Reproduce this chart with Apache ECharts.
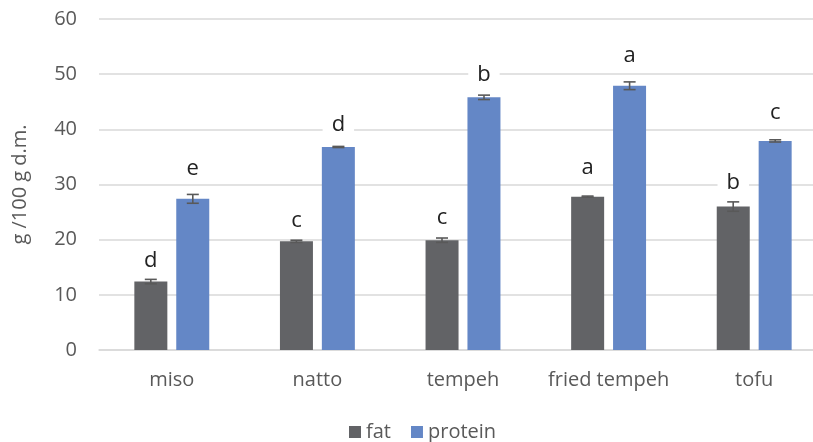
<!DOCTYPE html>
<html>
<head>
<meta charset="utf-8">
<script src="https://cdn.jsdelivr.net/npm/echarts@6/dist/echarts.min.js"></script>
<style>html,body{margin:0;padding:0;background:#fff;overflow:hidden;width:813px;height:442px}#c{width:830px;height:442px}</style>
</head>
<body>
<div id="c"></div>
<script>
var categories = ['miso', 'natto', 'tempeh', 'fried tempeh', 'tofu'];
var fatValues = [12.4, 19.7, 19.9, 27.8, 26.0];
var fatErrors = [0.4, 0.2, 0.4, 0.1, 0.85];
var fatLetters = ['d', 'c', 'c', 'a', 'b'];
var proteinValues = [27.4, 36.8, 45.8, 47.9, 37.9];
var proteinErrors = [0.8, 0.1, 0.4, 0.7, 0.2];
var proteinLetters = ['e', 'd', 'b', 'a', 'c'];
var yTicks = [0, 10, 20, 30, 40, 50, 60];

// styling only
var fatLabelGap = [10, 10, 11, 18, 13];
var proteinLabelGap = [19, 11, 12, 19, 17];
var FONT = '"Open Sans", sans-serif';
var BAR_W = 33, OFFSET = 21;

var chart = echarts.init(document.getElementById('c'));

function barData(vals, letters, gaps) {
  return vals.map(function (v, i) {
    return { value: v, label: { formatter: letters[i], distance: gaps[i] } };
  });
}
function errData(vals, errs) {
  return vals.map(function (v, i) { return [i, v - errs[i], v + errs[i]]; });
}
function errRender(offset) {
  return function (params, api) {
    var i = api.value(0);
    var lo = api.coord([i, api.value(1)]);
    var hi = api.coord([i, api.value(2)]);
    var x = lo[0] + offset;
    var hw = 6;
    var st = { stroke: '#595959', lineWidth: 1.6 };
    return {
      type: 'group',
      children: [
        { type: 'line', shape: { x1: x, y1: lo[1], x2: x, y2: hi[1] }, style: st },
        { type: 'line', shape: { x1: x - hw, y1: lo[1], x2: x + hw, y2: lo[1] }, style: st },
        { type: 'line', shape: { x1: x - hw, y1: hi[1], x2: x + hw, y2: hi[1] }, style: st }
      ]
    };
  };
}

var labelStyle = {
  show: true, position: 'top', color: '#222', fontSize: 22, fontFamily: FONT,
  backgroundColor: '#fff', padding: [0, 9, 0, 9]
};

chart.setOption({
  animation: false,
  grid: { left: 99, width: 728, top: 19, height: 331 },
  legend: {
    top: 417, left: 344, itemWidth: 12, itemHeight: 12, itemGap: 20,
    icon: 'rect',
    textStyle: { fontSize: 20, color: '#595959', fontFamily: FONT },
    data: ['fat', 'protein']
  },
  xAxis: {
    type: 'category', data: categories,
    axisLine: { lineStyle: { color: '#d9d9d9', width: 1.5 } },
    axisTick: { show: false },
    axisLabel: { fontSize: 20, color: '#595959', fontFamily: FONT, margin: 20, interval: 0 }
  },
  yAxis: {
    type: 'value', min: yTicks[0], max: yTicks[yTicks.length - 1], interval: 10,
    name: 'g /100 g d.m.', nameLocation: 'middle', nameGap: 69, nameRotate: 90,
    nameTextStyle: { fontSize: 20, color: '#595959', fontFamily: FONT },
    axisLine: { show: false }, axisTick: { show: false },
    axisLabel: { fontSize: 20, color: '#595959', fontFamily: FONT, margin: 22 },
    splitLine: { lineStyle: { color: '#d9d9d9', width: 1.5 } }
  },
  series: [
    {
      name: 'fat', type: 'bar', barWidth: BAR_W, barGap: '27%',
      itemStyle: { color: '#626366' },
      label: labelStyle,
      data: barData(fatValues, fatLetters, fatLabelGap), z: 2
    },
    {
      name: 'protein', type: 'bar', barWidth: BAR_W, barGap: '27%',
      itemStyle: { color: '#6487c6' },
      label: labelStyle,
      data: barData(proteinValues, proteinLetters, proteinLabelGap), z: 2
    },
    {
      type: 'custom', renderItem: errRender(-OFFSET), data: errData(fatValues, fatErrors), z: 3,
      encode: { x: 0, y: [1, 2] }
    },
    {
      type: 'custom', renderItem: errRender(OFFSET), data: errData(proteinValues, proteinErrors), z: 3,
      encode: { x: 0, y: [1, 2] }
    }
  ]
});
</script>
</body>
</html>
